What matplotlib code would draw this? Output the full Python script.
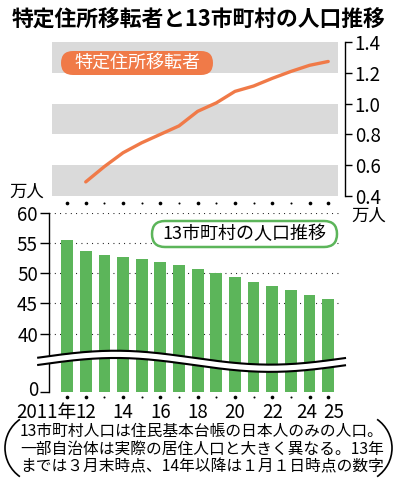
import numpy as np
import matplotlib
matplotlib.use('Agg')
import matplotlib.pyplot as plt
from matplotlib.patches import FancyBboxPatch, Arc
from matplotlib.transforms import IdentityTransform, ScaledTranslation, blended_transform_factory

plt.rcParams['font.family'] = ['Noto Sans CJK JP', 'DejaVu Sans']

# -------- data --------
years = list(range(2011, 2026))
mover_years = list(range(2012, 2026))
movers = [0.49, 0.59, 0.68, 0.745, 0.80, 0.855, 0.95, 1.005, 1.08, 1.115, 1.165, 1.21, 1.25, 1.275]  # 万人
population = [55.4, 53.6, 53.0, 52.6, 52.3, 51.8, 51.3, 50.6, 49.95, 49.3, 48.6, 47.9, 47.2, 46.3, 45.7]  # 万人

label_years = [2012, 2014, 2016, 2018, 2020, 2022, 2024, 2025]
label_text = ['12', '14', '16', '18', '20', '22', '24', '25']
label_nudge = [0, 0, 0, 0, 0, 0, -1.8, 4.0]   # points, keeps 24/25 apart
big_dot_years = [2011, 2012, 2014, 2016, 2018, 2020, 2022, 2024, 2025]
small_dot_years = [2013, 2015, 2017, 2019, 2021, 2023]

top_ticks = [0.4, 0.6, 0.8, 1.0, 1.2, 1.4]
bot_ticks = [40, 45, 50, 55, 60]
BASE = 30.4   # where the broken axis puts "0"

notes = ['13市町村人口は住民基本台帳の日本人のみの人口。',
         '一部自治体は実際の居住人口と大きく異なる。13年',
         'までは３月末時点、14年以降は１月１日時点の数字']

orange = '#f07a48'
green = '#5cb55a'
band = '#dadada'

W, H = 397, 488
fig = plt.figure(figsize=(W / 100, H / 100), dpi=100)


def fx(px):
    return px / W


def fy(py):
    return 1 - py / H


def px_box(x0, y0, w, h, r, **kw):
    p = FancyBboxPatch((x0, H - y0 - h), w, h, boxstyle='round,pad=0,rounding_size=%g' % r,
                       transform=IdentityTransform(), **kw)
    fig.add_artist(p)


xlim = (2010.03, 2025.9)

# ------- top panel: line -------
ax1 = fig.add_axes([fx(49), fy(195.7), 296 / W, 153.4 / H])
ax1.set_xlim(xlim)
ax1.set_ylim(0.4, 1.4)
for lo in (0.4, 0.8, 1.2):
    ax1.axhspan(lo, lo + 0.2, xmin=0.01, xmax=0.975, color=band, lw=0, zorder=0)
ax1.plot(mover_years, movers, color=orange, lw=2.4, solid_capstyle='round', zorder=3)
for s in ['top', 'left', 'bottom']:
    ax1.spines[s].set_visible(False)
ax1.spines['right'].set_linewidth(1.0)
ax1.yaxis.tick_right()
ax1.set_yticks(top_ticks)
ax1.set_yticklabels(['%.1f' % t for t in top_ticks])
ax1.tick_params(axis='y', direction='out', length=5, width=1, labelsize=13.5, pad=2)
ax1.set_xticks([])

px_box(61, 51, 152, 24, 12, fc=orange, ec='none')
fig.text(fx(137), fy(63), '特定住所移転者', color='white', fontsize=13, ha='center', va='center')

# ------- bottom panel: bars -------
ax2 = fig.add_axes([fx(49), fy(391.5), 296 / W, 178.8 / H])
ax2.set_xlim(xlim)
ax2.set_ylim(BASE, 60)
ax2.bar(years, [p - BASE for p in population], bottom=BASE, width=0.63, color=green, zorder=2)
for v in bot_ticks:
    ax2.axhline(v, xmax=0.99, color='k', lw=0.8, ls=(0, (0.8, 4)), zorder=1)
for s in ['top', 'right', 'bottom']:
    ax2.spines[s].set_visible(False)
ax2.spines['left'].set_linewidth(1.0)
ax2.set_yticks([BASE] + bot_ticks)
ax2.set_yticklabels(['0'] + [str(t) for t in bot_ticks])
ax2.tick_params(axis='y', direction='out', length=6.5, width=1, labelsize=13.5, pad=1.5)
zero_lab = ax2.get_yticklabels()[0]
zero_lab.set_transform(zero_lab.get_transform() + ScaledTranslation(0, 2.5 / 72, fig.dpi_scale_trans))
ax2.set_xticks(label_years)
ax2.set_xticklabels(label_text)
ax2.tick_params(axis='x', length=0, labelsize=13.5, pad=7.5)
for lab, dx in zip(ax2.get_xticklabels(), label_nudge):
    lab.set_transform(lab.get_transform() + ScaledTranslation(dx / 72, 0, fig.dpi_scale_trans))
blend = blended_transform_factory(ax2.transData, ax2.transAxes)
ax2.text(2011.5, -7.5 * 1.389 / 178.8, '2011年', transform=blend, ha='right', va='top', fontsize=13.5)

# broken-axis wave
wx = np.linspace(2009.45, 2025.9, 300)
wc = 35.4 + 1.15 * np.cos(2 * np.pi * (wx - 2013.6) / 16.6)
ax2.fill_between(wx, wc - 0.6, wc + 0.6, color='white', lw=0, zorder=5, clip_on=False)
ax2.plot(wx, wc + 0.6, color='k', lw=1.5, zorder=6, clip_on=False)
ax2.plot(wx, wc - 0.6, color='k', lw=1.5, zorder=6, clip_on=False)

# dotted year markers
for yy in (1.054, -0.03):
    ax2.scatter(big_dot_years, [yy] * len(big_dot_years), s=7, color='k', transform=blend,
                clip_on=False, zorder=6, lw=0)
    ax2.scatter(small_dot_years, [yy] * len(small_dot_years), s=2.2, color='k', transform=blend,
                clip_on=False, zorder=6, lw=0)

px_box(152, 221, 185, 26, 13, fc='white', ec=green, lw=1.8)
fig.text(fx(244.5), fy(234), '13市町村の人口推移', color='k', fontsize=13, ha='center', va='center')

# units
fig.text(fx(27), fy(192), '万人', fontsize=12.5, ha='center', va='center')
fig.text(fx(369), fy(216), '万人', fontsize=12.5, ha='center', va='center')

# title
fig.text(fx(198.5), fy(20), '特定住所移転者と13市町村の人口推移', fontsize=15.7, fontweight='bold',
         ha='center', va='center')

# notes with parentheses
for i, line in enumerate(notes):
    fig.text(fx(20), fy(431.5 + 17.6 * i), line, fontsize=11.3, ha='left', va='center')
fig.add_artist(Arc((40, H - 448), 70, 70, theta1=125, theta2=235, lw=1.2, color='k',
                   transform=IdentityTransform()))
fig.add_artist(Arc((357, H - 448), 70, 70, theta1=-55, theta2=55, lw=1.2, color='k',
                   transform=IdentityTransform()))

plt.savefig('out.png', dpi=100)
